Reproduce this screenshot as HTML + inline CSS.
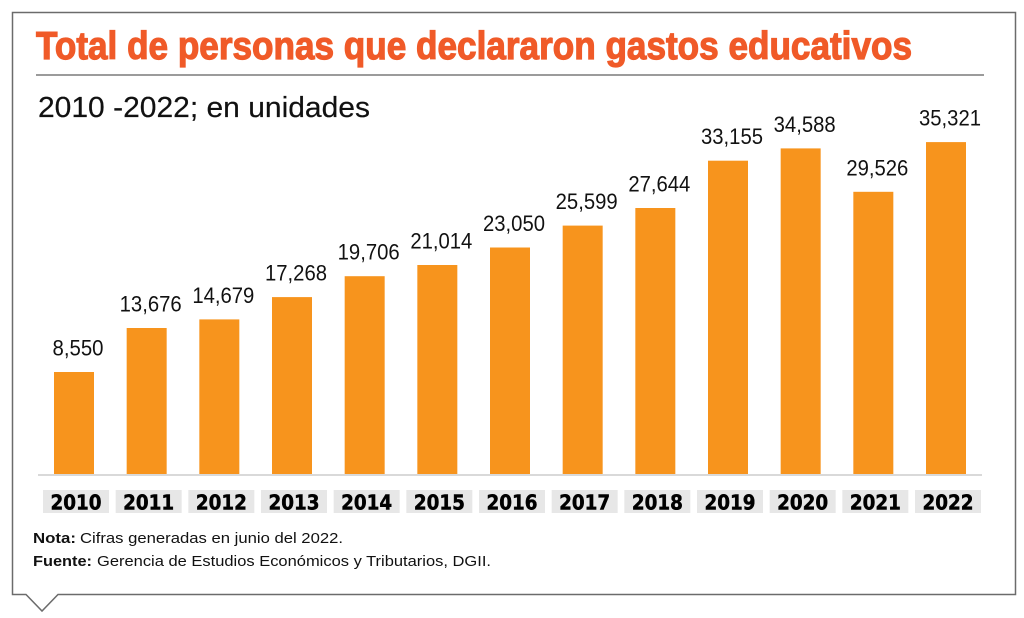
<!DOCTYPE html>
<html><head><meta charset="utf-8"><style>
html,body{margin:0;padding:0;background:#fff;}
svg{display:block;}
</style></head><body>
<svg width="1024" height="618" viewBox="0 0 1024 618" xmlns="http://www.w3.org/2000/svg">
<rect width="1024" height="618" fill="#fff"/>
<path d="M12.5,12.5 H1015.5 V594.5 H58 L42,611 L26,594.5 H12.5 Z" fill="#fff" stroke="#6b6b6b" stroke-width="1.5"/>
<text x="36" y="59" font-family="Liberation Sans, sans-serif" font-weight="bold" font-size="39" fill="#F05A28" stroke="#F05A28" stroke-width="1.2" textLength="876" lengthAdjust="spacingAndGlyphs">Total de personas que declararon gastos educativos</text>
<line x1="36" y1="75" x2="984" y2="75" stroke="#7a7a7a" stroke-width="1.5"/>
<text x="38" y="117" font-family="Liberation Sans, sans-serif" font-size="29" fill="#111" stroke="#111" stroke-width="0.2" textLength="332" lengthAdjust="spacingAndGlyphs">2010 -2022; en unidades</text>
<g fill="#F7941D">
<rect x="54" y="372.0" width="40" height="102.0"/>
<rect x="126.67" y="328.0" width="40" height="146.0"/>
<rect x="199.33" y="319.4" width="40" height="154.6"/>
<rect x="272" y="297.1" width="40" height="176.9"/>
<rect x="344.67" y="276.2" width="40" height="197.8"/>
<rect x="417.33" y="265.0" width="40" height="209.0"/>
<rect x="490" y="247.5" width="40" height="226.5"/>
<rect x="562.67" y="225.6" width="40" height="248.4"/>
<rect x="635.33" y="208.0" width="40" height="266.0"/>
<rect x="708" y="160.7" width="40" height="313.3"/>
<rect x="780.67" y="148.4" width="40" height="325.6"/>
<rect x="853.33" y="191.8" width="40" height="282.2"/>
<rect x="926" y="142.1" width="40" height="331.9"/>
</g>
<line x1="38" y1="475" x2="982" y2="475" stroke="#d9d9d9" stroke-width="2"/>
<g font-family="Liberation Sans, sans-serif" font-size="22" fill="#111" text-anchor="middle">
<text x="78" y="355.5" textLength="51" lengthAdjust="spacingAndGlyphs">8,550</text>
<text x="150.67" y="311.5" textLength="62" lengthAdjust="spacingAndGlyphs">13,676</text>
<text x="223.33" y="302.9" textLength="62" lengthAdjust="spacingAndGlyphs">14,679</text>
<text x="296" y="280.6" textLength="62" lengthAdjust="spacingAndGlyphs">17,268</text>
<text x="368.67" y="259.7" textLength="62" lengthAdjust="spacingAndGlyphs">19,706</text>
<text x="441.33" y="248.5" textLength="62" lengthAdjust="spacingAndGlyphs">21,014</text>
<text x="514" y="231.0" textLength="62" lengthAdjust="spacingAndGlyphs">23,050</text>
<text x="586.67" y="209.1" textLength="62" lengthAdjust="spacingAndGlyphs">25,599</text>
<text x="659.33" y="191.5" textLength="62" lengthAdjust="spacingAndGlyphs">27,644</text>
<text x="732" y="144.2" textLength="62" lengthAdjust="spacingAndGlyphs">33,155</text>
<text x="804.67" y="131.9" textLength="62" lengthAdjust="spacingAndGlyphs">34,588</text>
<text x="877.33" y="175.3" textLength="62" lengthAdjust="spacingAndGlyphs">29,526</text>
<text x="950" y="125.6" textLength="62" lengthAdjust="spacingAndGlyphs">35,321</text>
</g>
<g fill="#e7e7e7">
<rect x="43" y="490" width="66" height="23"/>
<rect x="115.67" y="490" width="66" height="23"/>
<rect x="188.33" y="490" width="66" height="23"/>
<rect x="261" y="490" width="66" height="23"/>
<rect x="333.67" y="490" width="66" height="23"/>
<rect x="406.33" y="490" width="66" height="23"/>
<rect x="479" y="490" width="66" height="23"/>
<rect x="551.67" y="490" width="66" height="23"/>
<rect x="624.33" y="490" width="66" height="23"/>
<rect x="697" y="490" width="66" height="23"/>
<rect x="769.67" y="490" width="66" height="23"/>
<rect x="842.33" y="490" width="66" height="23"/>
<rect x="915" y="490" width="66" height="23"/>
</g>
<g font-family="DejaVu Sans, sans-serif" font-weight="bold" font-size="20" fill="#000" stroke="#000" stroke-width="0.5" text-anchor="middle">
<text x="76" y="509.5" textLength="51" lengthAdjust="spacingAndGlyphs">2010</text>
<text x="148.67" y="509.5" textLength="51" lengthAdjust="spacingAndGlyphs">2011</text>
<text x="221.33" y="509.5" textLength="51" lengthAdjust="spacingAndGlyphs">2012</text>
<text x="294" y="509.5" textLength="51" lengthAdjust="spacingAndGlyphs">2013</text>
<text x="366.67" y="509.5" textLength="51" lengthAdjust="spacingAndGlyphs">2014</text>
<text x="439.33" y="509.5" textLength="51" lengthAdjust="spacingAndGlyphs">2015</text>
<text x="512" y="509.5" textLength="51" lengthAdjust="spacingAndGlyphs">2016</text>
<text x="584.67" y="509.5" textLength="51" lengthAdjust="spacingAndGlyphs">2017</text>
<text x="657.33" y="509.5" textLength="51" lengthAdjust="spacingAndGlyphs">2018</text>
<text x="730" y="509.5" textLength="51" lengthAdjust="spacingAndGlyphs">2019</text>
<text x="802.67" y="509.5" textLength="51" lengthAdjust="spacingAndGlyphs">2020</text>
<text x="875.33" y="509.5" textLength="51" lengthAdjust="spacingAndGlyphs">2021</text>
<text x="948" y="509.5" textLength="51" lengthAdjust="spacingAndGlyphs">2022</text>
</g>
<g font-family="Liberation Sans, sans-serif" font-size="14.5" fill="#111">
<text x="33" y="543" font-weight="bold" textLength="43" lengthAdjust="spacingAndGlyphs">Nota:</text>
<text x="80" y="543" textLength="263" lengthAdjust="spacingAndGlyphs">Cifras generadas en junio del 2022.</text>
<text x="33" y="566" font-weight="bold" textLength="59" lengthAdjust="spacingAndGlyphs">Fuente:</text>
<text x="97" y="566" textLength="394" lengthAdjust="spacingAndGlyphs">Gerencia de Estudios Económicos y Tributarios, DGII.</text>
</g>
</svg>
</body></html>
